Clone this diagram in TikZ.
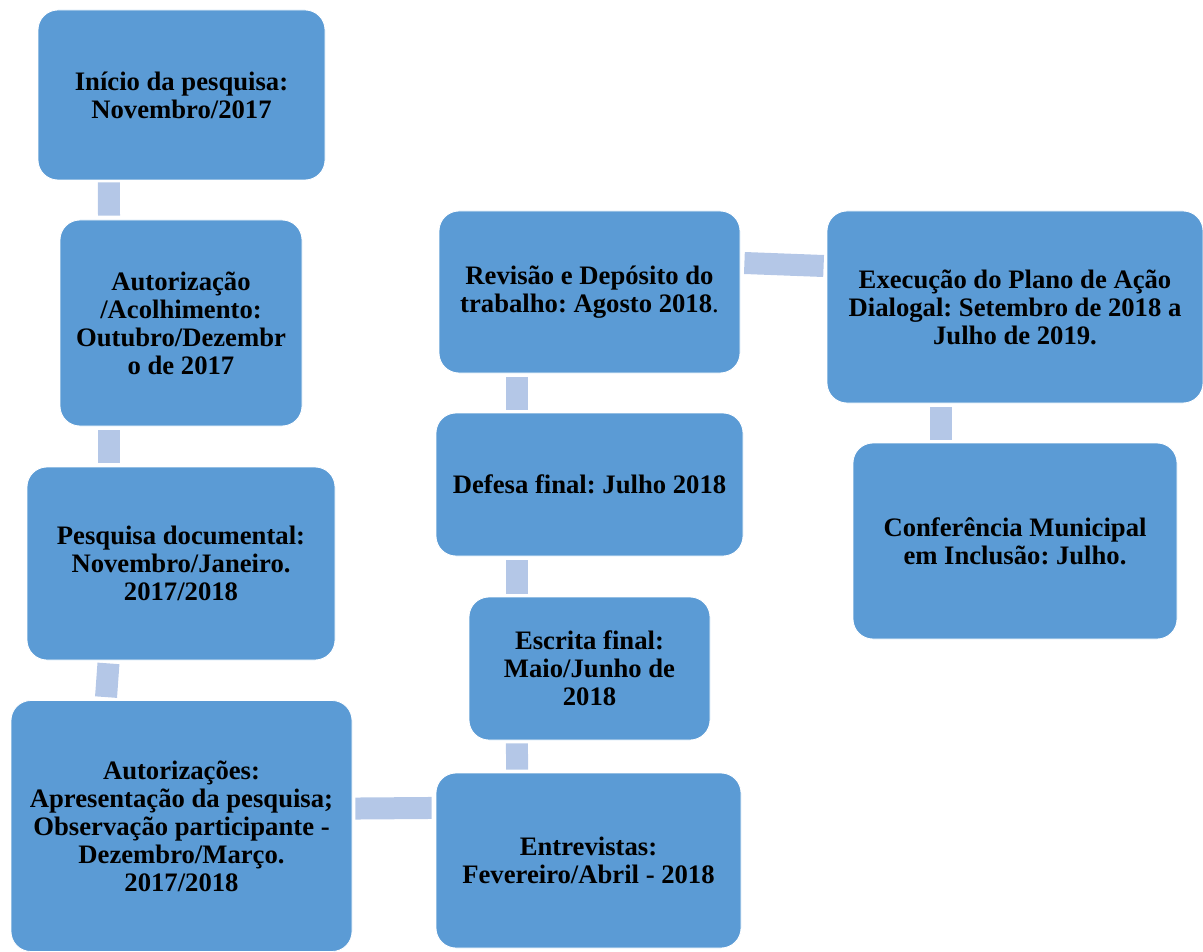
\documentclass[tikz,border=0pt]{standalone}
\usepackage{fontspec}
\setmainfont{Liberation Serif}
\frenchspacing
\definecolor{boxblue}{HTML}{5B9BD5}
\definecolor{connblue}{HTML}{B4C7E7}
\tikzset{
  stage/.style={rectangle, rounded corners=15pt, fill=boxblue, draw=white, line width=0.6pt,
    align=center, inner sep=2pt, font=\fontsize{20}{21}\selectfont\bfseries, text=black},
  conn/.style={draw=connblue, line width=16.5pt, line cap=butt}
}
\begin{document}
\begin{tikzpicture}[x=0.75pt,y=-0.75pt]
\useasboundingbox (0,0) rectangle (1203,952);
\node[stage, minimum width=215.25pt, minimum height=127.5pt] (n1) at (181.5,95) {Início da pesquisa:\\Novembro/2017};
\node[stage, minimum width=181.5pt, minimum height=154.5pt] (n2) at (181,323) {Autorização\\/Acolhimento:\\Outubro/Dezembr\\o de 2017};
\node[stage, minimum width=231pt, minimum height=144.75pt] (n3) at (181,563.5) {Pesquisa documental:\\Novembro/Janeiro.\\2017/2018};
\node[stage, minimum width=255.75pt, minimum height=188.25pt] (n4) at (181.5,826) {Autorizações:\\Apresentação da pesquisa;\\Observação participante -\\Dezembro/Março.\\2017/2018};
\node[stage, minimum width=228.75pt, minimum height=131.25pt] (n5) at (588.5,860.5) {Entrevistas:\\Fevereiro/Abril - 2018};
\node[stage, minimum width=180.75pt, minimum height=107.25pt] (n6) at (589.5,668.5) {Escrita final:\\Maio/Junho de\\2018};
\node[stage, minimum width=230.25pt, minimum height=107.25pt] (n7) at (589.5,484.5) {Defesa final: Julho 2018};
\node[stage, minimum width=225.75pt, minimum height=121.5pt] (n8) at (589.5,292) {Revisão e Depósito do\\trabalho: Agosto 2018\textmd{.}};
\node[stage, minimum width=282pt, minimum height=144pt] (n9) at (1015,307) {Execução do Plano de Ação\\Dialogal: Setembro de 2018 a\\Julho de 2019.};
\node[stage, minimum width=243pt, minimum height=147pt] (n10) at (1015,541) {Conferência Municipal\\em Inclusão: Julho.};

\draw[conn] ([xshift=-54.4pt,yshift=-1.5pt]n1.south) -- ([xshift=-54pt,yshift=3pt]n2.north);
\draw[conn] ([xshift=-54pt,yshift=-3pt]n2.south) -- ([xshift=-54pt,yshift=3pt]n3.north);
\draw[conn] ([xshift=-54.4pt,yshift=-2.25pt]n3.south) -- ([xshift=-56.6pt,yshift=2.25pt]n4.north);
\draw[conn] ([xshift=2.25pt,yshift=13.1pt]n4.east) -- ([xshift=-3pt,yshift=39.4pt]n5.west);
\draw[conn] ([xshift=-53.6pt,yshift=2.25pt]n5.north) -- ([xshift=-54.4pt,yshift=-2.25pt]n6.south);
\draw[conn] ([xshift=-54.4pt,yshift=2.25pt]n6.north) -- ([xshift=-54.4pt,yshift=-3pt]n7.south);
\draw[conn] ([xshift=-54.4pt,yshift=2.25pt]n7.north) -- ([xshift=-54.4pt,yshift=-3pt]n8.south);
\draw[conn] ([xshift=3pt,yshift=21.75pt]n8.east) -- ([xshift=-2.25pt,yshift=30.75pt]n9.west);
\draw[conn] ([xshift=-55.5pt,yshift=-3pt]n9.south) -- ([xshift=-55.5pt,yshift=2.25pt]n10.north);
\end{tikzpicture}
\end{document}
